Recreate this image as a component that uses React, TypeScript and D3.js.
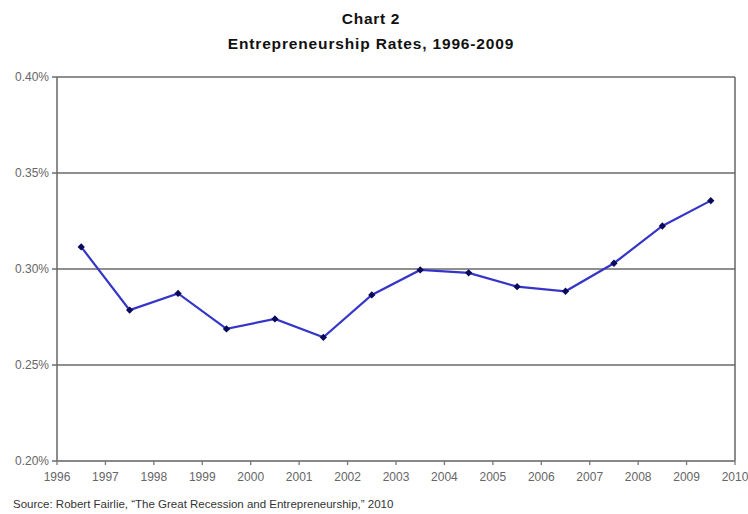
import React from "react";
import * as d3 from "d3";

const years = [1996.5, 1997.5, 1998.5, 1999.5, 2000.5, 2001.5, 2002.5, 2003.5, 2004.5, 2005.5, 2006.5, 2007.5, 2008.5, 2009.5];
const rates = [0.3115, 0.2786, 0.2873, 0.2688, 0.274, 0.2644, 0.2865, 0.2995, 0.298, 0.2908, 0.2884, 0.303, 0.3224, 0.3356];
const yTicks = [0.2, 0.25, 0.3, 0.35, 0.4];
const xTicks = [1996, 1997, 1998, 1999, 2000, 2001, 2002, 2003, 2004, 2005, 2006, 2007, 2008, 2009, 2010];
const titleLines = ["Chart 2", "Entrepreneurship Rates, 1996-2009"];
const sourceText = "Source: Robert Fairlie, \u201CThe Great Recession and Entrepreneurship,\u201D 2010";

export default function App() {
  const W = 748, H = 514;
  const left = 57, right = 735, top = 77, bottom = 461;
  const x = d3.scaleLinear().domain([1996, 2010]).range([left, right]);
  const y = d3.scaleLinear().domain([0.2, 0.4]).range([bottom, top]);
  const line = d3.line<number>().x((_, i) => x(years[i])).y((d) => y(d));
  const font = "'Liberation Sans', Arial, sans-serif";
  const diamond = d3.symbol().type(d3.symbolDiamond2).size(34)() as string;

  return (
    <svg width={W} height={H} style={{ position: "absolute", left: 0, top: 0, background: "#fff" }} fontFamily={font}>
      <rect width={W} height={H} fill="#fff" />
      <text x={371} y={24} textAnchor="middle" fontSize={15.5} letterSpacing={0.7} fontWeight="bold" fill="#111">{titleLines[0]}</text>
      <text x={371} y={49} textAnchor="middle" fontSize={15.5} letterSpacing={0.85} fontWeight="bold" fill="#111">{titleLines[1]}</text>
      {yTicks.map((t) => (
        <g key={t}>
          <line x1={left - 5} x2={right} y1={y(t)} y2={y(t)} stroke="#8f8f8f" strokeWidth={1.8} />
          <text x={49} y={y(t) + 4} textAnchor="end" fontSize={12} fill="#666">{t.toFixed(2) + "%"}</text>
        </g>
      ))}
      <line x1={left} x2={left} y1={top} y2={bottom} stroke="#666" strokeWidth={1.5} />
      <line x1={right} x2={right} y1={top} y2={bottom} stroke="#666" strokeWidth={1.5} />
      <line x1={left} x2={right} y1={bottom} y2={bottom} stroke="#888" strokeWidth={1.8} />
      {xTicks.map((t) => (
        <g key={t}>
          <line x1={x(t)} x2={x(t)} y1={bottom} y2={bottom + 4} stroke="#777" strokeWidth={1.3} />
          <text x={x(t)} y={481} textAnchor="middle" fontSize={12} fill="#666">{t}</text>
        </g>
      ))}
      <path d={line(rates) || ""} fill="none" stroke="#3535c8" strokeWidth={2.2} />
      {rates.map((r, i) => (
        <path key={i} d={diamond} transform={`translate(${x(years[i])},${y(r)})`} fill="#0a0a5a" />
      ))}
      <text x={13} y={508} fontSize={11.5} fill="#333">{sourceText}</text>
    </svg>
  );
}
